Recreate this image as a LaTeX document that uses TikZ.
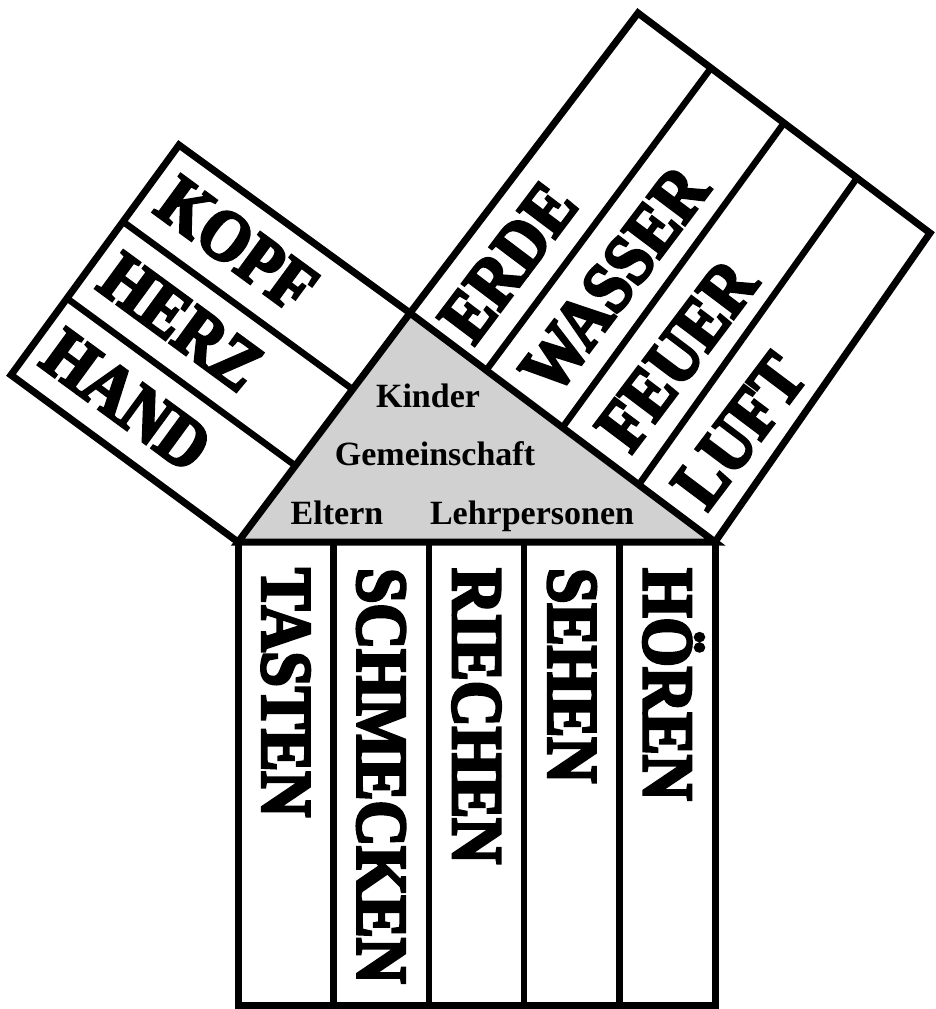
\documentclass[tikz,border=0pt]{standalone}
\usepackage{fontspec}
\setmainfont{Liberation Serif}
\newfontfamily\stencil[FakeStretch=0.88,FakeBold=4]{Liberation Serif}
\usetikzlibrary{calc}

\begin{document}
\begin{tikzpicture}[
    x=1pt, y=-1pt,
    frame/.style={line width=7pt, line join=miter},
    sep/.style={line width=6.5pt},
    word/.style={font=\stencil\bfseries\fontsize{72}{72}\selectfont, anchor=west, inner sep=0pt, text height=47pt, text depth=0pt},
    mid/.style={font=\bfseries\fontsize{34}{40}\selectfont, anchor=base, inner sep=0pt}
]
\useasboundingbox (0,0) rectangle (936,1009);

% corners
\coordinate (bl) at (238,542);
\coordinate (br) at (715,542);
\coordinate (apex) at (410,313);
\coordinate (ltop) at (179,145);
\coordinate (lleft) at (11,375);
\coordinate (rtop) at (638,13);
\coordinate (rright) at (930,233);
\coordinate (bbl) at (238,1005);
\coordinate (bbr) at (715,1005);

% triangle and the three squares
\filldraw[frame, fill=black!18] (bl) -- (apex) -- (br) -- cycle;
\draw[frame] (bl) -- (lleft) -- (ltop) -- (apex);
\draw[frame] (apex) -- (rtop) -- (rright) -- (br);
\draw[frame] (bl) -- (bbl) -- (bbr) -- (br);

% stripes
\draw[sep] ($(bl)!1/3!(apex)$) -- ($(lleft)!1/3!(ltop)$);
\draw[sep] ($(bl)!2/3!(apex)$) -- ($(lleft)!2/3!(ltop)$);
\draw[sep] ($(apex)!1/4!(br)$) -- ($(rtop)!1/4!(rright)$);
\draw[sep] ($(apex)!2/4!(br)$) -- ($(rtop)!2/4!(rright)$);
\draw[sep] ($(apex)!3/4!(br)$) -- ($(rtop)!3/4!(rright)$);
\draw[sep] ($(bl)!1/5!(br)$) -- ($(bbl)!1/5!(bbr)$);
\draw[sep] ($(bl)!2/5!(br)$) -- ($(bbl)!2/5!(bbr)$);
\draw[sep] ($(bl)!3/5!(br)$) -- ($(bbl)!3/5!(bbr)$);
\draw[sep] ($(bl)!4/5!(br)$) -- ($(bbl)!4/5!(bbr)$);

% left square
\node[word, rotate=-36.2] (kopf) at ($(bl)!5/6!(apex) + 0.95*(lleft) - 0.95*(bl)$) {KOPF};
\node[word, rotate=-36.2] (herz) at ($(bl)!3/6!(apex) + 0.95*(lleft) - 0.95*(bl)$) {HERZ};
\node[word, rotate=-36.2] (hand) at ($(bl)!1/6!(apex) + 0.95*(lleft) - 0.95*(bl)$) {HAND};

% right square
\node[word, rotate=53] (erde) at ($(apex)!1/8!(br) + 0.03*(rtop) - 0.03*(apex)$) {ERDE};
\node[word, rotate=53] (wasser) at ($(apex)!3/8!(br) + 0.05*(rtop) - 0.05*(apex)$) {WASSER};
\node[word, rotate=53] (feuer) at ($(apex)!5/8!(br) + 0.05*(rtop) - 0.05*(apex)$) {FEUER};
\node[word, rotate=53] (luft) at ($(apex)!7/8!(br) + 0.05*(rtop) - 0.05*(apex)$) {LUFT};

% bottom square
\node[word, rotate=-90] (tasten) at ($(bl)!1/10!(br) + (0,26)$) {TASTEN};
\node[word, rotate=-90] (schmecken) at ($(bl)!3/10!(br) + (0,26)$) {SCHMECKEN};
\node[word, rotate=-90] (riechen) at ($(bl)!5/10!(br) + (0,26)$) {RIECHEN};
\node[word, rotate=-90] (sehen) at ($(bl)!7/10!(br) + (0,26)$) {SEHEN};
\node[word, rotate=-90] (hoeren) at ($(bl)!9/10!(br) + (0,26)$) {HÖREN};

% triangle
\node[mid] (kinder) at (428,407) {Kinder};
\node[mid] (gemeinschaft) at (435,465) {Gemeinschaft};
\node[mid] (eltern) at (337,524) {Eltern};
\node[mid] (lehrpersonen) at (532,524) {Lehrpersonen};
\end{tikzpicture}
\end{document}
